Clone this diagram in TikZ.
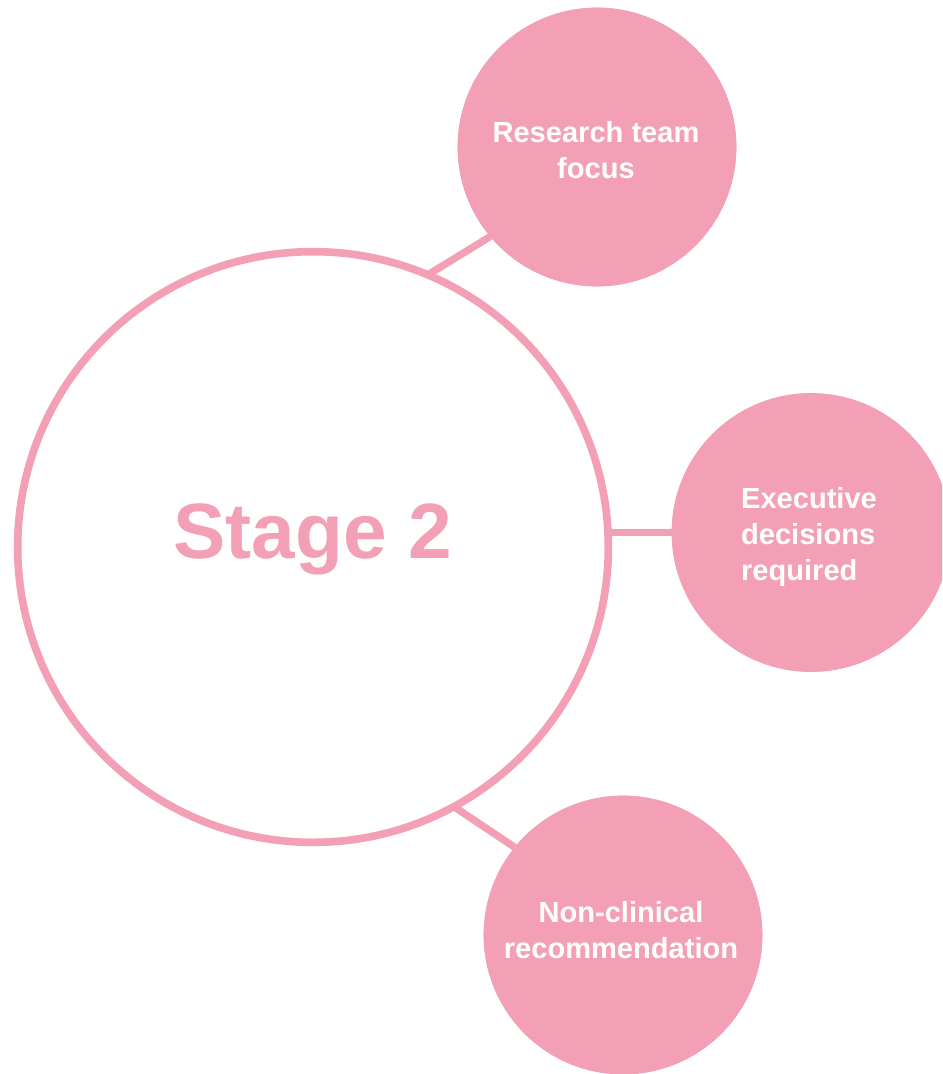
\documentclass[tikz,border=0pt]{standalone}
\usepackage{fontspec}
\setmainfont{Liberation Sans}
\definecolor{pinkc}{RGB}{243,160,182}
\begin{document}
\begin{tikzpicture}[x=0.75pt,y=-0.75pt,
  bigc/.style={circle,draw=pinkc,line width=5.75pt,fill=white,inner sep=0pt,outer sep=0pt,minimum size=443pt},
  smallc/.style={circle,fill=pinkc,inner sep=0pt,outer sep=0pt,minimum size=209pt},
  lbl/.style={text=white,font=\fontsize{21.8}{27}\selectfont\bfseries},
  conn/.style={draw=pinkc,line width=5.5pt}]
\clip (0,0) rectangle (942,1074);
\useasboundingbox (0,0) rectangle (942,1074);
% node positions
\coordinate (bc) at (313,547);
\node[smallc] (c1) at (597,147) {};
\node[smallc] (c2) at (811,532.5) {};
\node[smallc] (c3) at (623,935) {};
% connectors drawn first, their inner ends hidden by the big circle
\draw[conn] (c1.220.6) -- ++(-160,98);
\draw[conn] (c2.west) -- (bc |- c2.west);
\draw[conn] (c3.141.9) -- ++(-160,-107);
\node[bigc] (big) at (bc) {};
\node[smallc] at (c1) {};
\node[smallc] at (c2) {};
\node[smallc] at (c3) {};
\node[anchor=base,text=pinkc,font=\fontsize{58.8}{70}\selectfont\bfseries] (st) at (313,558) {Stage 2};
\node[lbl,align=center] (t1) at (596,150) {Research team\\focus};
\node[lbl,align=left] (t2) at (809,537) {Executive\\decisions\\required};
\node[lbl,align=center] (t3) at (621,930) {Non-clinical\\recommendation};
\end{tikzpicture}
\end{document}
